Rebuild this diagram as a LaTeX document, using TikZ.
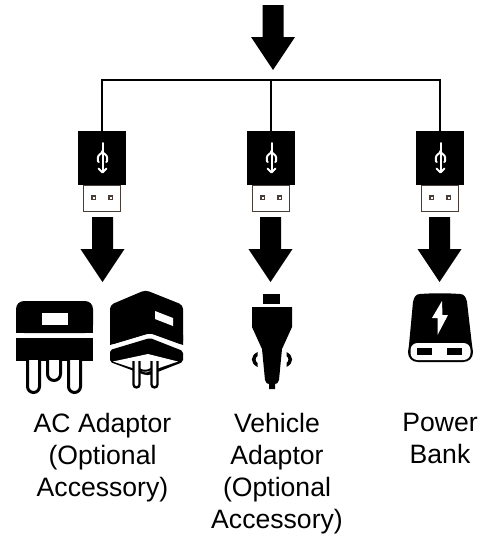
\documentclass[tikz,border=0pt]{standalone}
\usepackage{fontspec}
\setmainfont{Liberation Sans}
\usetikzlibrary{calc}
\definecolor{plugbrown}{HTML}{4A3F38}
\tikzset{
  x=1pt,y=-1pt,
  usbbody/.style={rectangle,fill=black,draw=none,minimum width=48pt,minimum height=54pt,inner sep=0pt},
  usbplug/.style={rectangle,draw=plugbrown,line width=1.4pt,fill=white,minimum width=37pt,minimum height=26pt,inner sep=0pt},
  usbpin/.style={rectangle,draw=plugbrown,line width=1.6pt,fill=white,minimum size=3.6pt,inner sep=0pt},
  wire/.style={line width=2.6pt,black},
  caption/.style={align=center,font=\fontsize{26.6}{32}\selectfont,inner sep=0pt,anchor=north},
  usbsym/.style={white,line width=2pt,line cap=round,line join=round},
  prong/.style={draw=black,fill=white,line width=3pt},
}
% block arrow: centre x, top y of shaft
\newcommand{\blockarrow}[2]{%
  \fill (#1-10.5,#2) -- (#1+10.5,#2) -- (#1+10.5,#2+32) -- (#1+22,#2+32) -- (#1,#2+65) -- (#1-22,#2+32) -- (#1-10.5,#2+32) -- cycle;}
\newcommand{\usbset}[2]{% name, body centre x
  \node[usbbody] (body#1) at (#2,158) {};
  \node[usbplug] (plug#1) at (#2,198.5) {};
  \node[usbpin] (pinl#1) at (#2-8.5,197.5) {};
  \node[usbpin] (pinr#1) at (#2+8.5,197.5) {};
  \begin{scope}[shift={(#2,0)},usbsym]
    \draw (0.5,143) -- (0.5,172);
    \draw (0.5,151) .. controls (0.5,154) and (-4.2,154) .. (-4.2,158) -- (-4.2,160) .. controls (-4.2,161) and (-3.8,162) .. (-3.2,162);
    \draw (0.5,151) .. controls (0.5,154) and (5.2,154) .. (5.2,158) -- (5.2,160) .. controls (5.2,161) and (4.8,162) .. (4.2,162);
    \draw (-3.5,168.5) -- (0.5,172.5) -- (4.5,168.5);
  \end{scope}
}
\begin{document}
\begin{tikzpicture}
\useasboundingbox (0,0) rectangle (491,536);
% arrows
\blockarrow{273}{5}
\blockarrow{102.5}{217}
\blockarrow{270.5}{217}
\blockarrow{439.5}{217}
% usb
\usbset{a}{102}
\usbset{b}{271}
\usbset{c}{440}
% wires
\coordinate (bus) at (271,80);
\draw[wire,line join=miter] (bodya.north) |- (bus) -| (bodyc.north);
\draw[wire] (bus) -- (bodyb.north);
% AC adaptor front
\fill[rounded corners=8pt] (16,333) -- (16,301) -- (93,301) -- (93,333) -- cycle;
\fill (16,325) rectangle (93,333);
\fill[white] (42,313) rectangle (68,325);
\fill (16,338) rectangle (93,361);
\draw[prong] (27.5,360) -- (27.5,386.5) arc[start angle=180,end angle=0,radius=6] -- (39.5,360);
\draw[prong] (47.5,360) -- (47.5,374) arc[start angle=180,end angle=0,radius=6.5] -- (60.5,360);
\draw[prong] (68.5,360) -- (68.5,386.5) arc[start angle=180,end angle=0,radius=6] -- (80.5,360);
% AC adaptor iso
\fill[rounded corners=4pt] (110,345) -- (110,305) -- (145.5,290) -- (183,305) -- (183,345) -- (150,333) -- cycle;
\fill (110,335) -- (150,325) -- (183,335) -- (183,345) -- (150,333) -- (110,345) -- cycle;
\fill[white] (155,311) -- (173,318) -- (173,326) -- (155,319) -- cycle;
\fill[rounded corners=2pt] (110,350) -- (150,338) -- (183,351) -- (183,362) -- (150,375) -- (145,375) -- (110,362) -- cycle;
\fill[white] (113,361.5) -- (148,354) -- (178,361.5) -- (146,372.5) -- cycle;
\draw[line width=2pt] (136,364) .. controls (137,373) and (153,373) .. (154,364);
\draw[prong,line width=2.3pt] (133.5,361) -- (133.5,384.5) arc[start angle=180,end angle=0,radius=3] -- (139.5,361);
\draw[prong,line width=2.3pt] (151.5,361) -- (151.5,384.5) arc[start angle=180,end angle=0,radius=3] -- (157.5,361);
% vehicle adaptor
\fill (263,294) rectangle (280,304);
\fill (252,307) -- (292,307) -- (292,327) -- (282,349) -- (279,380) .. controls (278,383) and (277,384) .. (275,384) -- (275,389) -- (269,389) -- (269,384) .. controls (267,384) and (266,383) .. (265,380) -- (262,349) -- (252,327) -- cycle;
\fill (257.5,352) .. controls (250,356) and (250,363) .. (257.5,367) -- (257.5,363) .. controls (255,361) and (255,358) .. (257.5,356) -- cycle;
\fill (286.5,352) .. controls (294,356) and (294,363) .. (286.5,367) -- (286.5,363) .. controls (289,361) and (289,358) .. (286.5,356) -- cycle;
% power bank
\fill (420,294) .. controls (435,293) and (445,293) .. (460,294) .. controls (464,294) and (466,297) .. (467,302) -- (472,345) -- (473,352) .. controls (473,358) and (469,362) .. (463,362) -- (418,362) .. controls (412,362) and (408,358) .. (408,352) -- (409,345) -- (413,302) .. controls (414,297) and (416,294) .. (420,294) -- cycle;
\fill[white,rounded corners=7pt] (410.5,343) rectangle (470.5,360);
\fill (417,348) rectangle (432,355);
\fill (447,348) rectangle (462,355);
\fill[white] (442,301) -- (432,318) -- (437.5,318) -- (437.5,335) -- (448,315) -- (442.5,315) -- cycle;
% captions
\node[caption] (capa) at (102.5,413) {AC Adaptor\\(Optional\\Accessory)};
\node[caption] (capb) at (277,413) {Vehicle\\Adaptor\\(Optional\\Accessory)};
\node[caption] (capc) at (440,413) {Power\\Bank};
\end{tikzpicture}
\end{document}
